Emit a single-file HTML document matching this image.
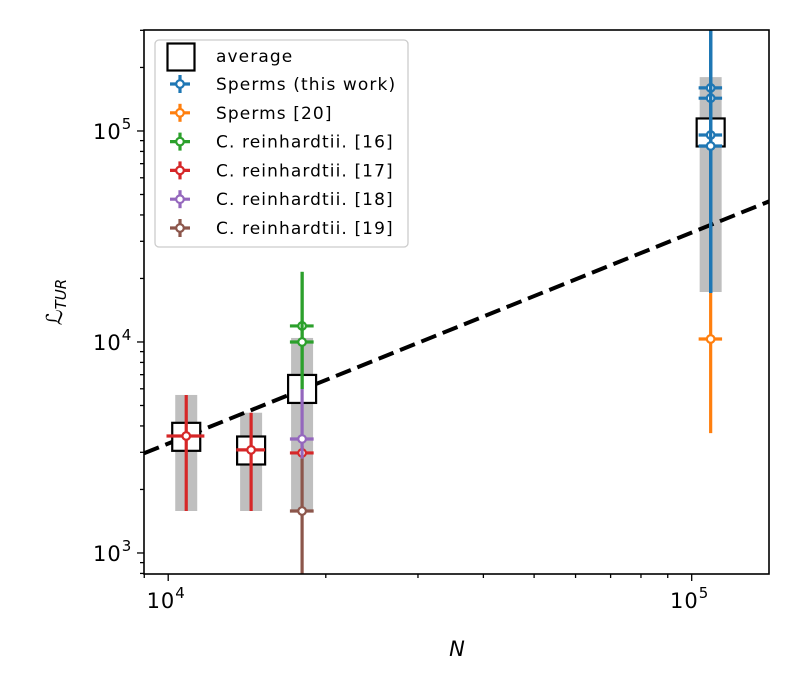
<!DOCTYPE html>
<html><head><meta charset="utf-8"><style>
body{margin:0;background:#fff;}
svg{display:block;font-family:"DejaVu Sans","Liberation Sans",sans-serif;}
</style></head><body>
<svg id="chart" width="800" height="700" xmlns="http://www.w3.org/2000/svg"></svg>
<script>
// ---- data ----
const seriesNames = ["Sperms (this work)","Sperms [20]","C. reinhardtii. [16]","C. reinhardtii. [17]","C. reinhardtii. [18]","C. reinhardtii. [19]"];
const seriesColors = ["#1f77b4","#ff7f0e","#2ca02c","#d62728","#9467bd","#8c564b"];
// points: series index, N, L, L lower, L upper, xerr
const ptSeries = [0,0,0,0,1,2,2,3,3,3,4,5];
const ptN     = [108700,108700,108700,108700,108700,18020,18020,10825,14400,18020,18020,18020];
const ptL     = [160000,143000,95700,84900,10330,11910,10000,3585,3080,2980,3470,1581];
const ptLlo   = [17060,17060,17060,17060,3700,5990,5990,1581,1581,2800,2800,600];
const ptLhi   = [300000,300000,300000,300000,17060,21500,21500,5610,4620,3200,5990,2800];
const ptXerr  = [5600,5600,5600,5600,5600,940,940,900,910,940,940,940];
// averages
const avgN  = [10825,14400,18020,108700];
const avgL  = [3552,3060,5990,98400];
const avgLo = [1581,1581,1581,17250];
const avgHi = [5610,4620,10450,180000];
// reference line L = slope * N
const lineSlope = 0.33;
const xTicks = [10000,100000];
const xTickLabels = ["4","5"];
const yTicks = [1000,10000,100000];
const yTickLabels = ["3","4","5"];

// ---- scales ----
const X0=144,X1=769,Y0=30,Y1=574;
const xMin=Math.log10(8990), xMax=Math.log10(140500);
const yMin=Math.log10(795), yMax=Math.log10(301000);
const xs=v=>X0+(Math.log10(v)-xMin)/(xMax-xMin)*(X1-X0);
const ys=v=>Y1-(Math.log10(v)-yMin)/(yMax-yMin)*(Y1-Y0);
const NS="http://www.w3.org/2000/svg";
const svg=document.getElementById('chart');
function mk(tag,attrs,parent){const e=document.createElementNS(NS,tag);for(const k in attrs)e.setAttribute(k,attrs[k]);(parent||svg).appendChild(e);return e;}

const defs=mk('defs',{});const cp=mk('clipPath',{id:'clip'},defs);mk('rect',{x:X0,y:Y0,width:X1-X0,height:Y1-Y0},cp);
const plot=mk('g',{'clip-path':'url(#clip)'});



avgN.forEach((n,i)=>{
  const r=mk('rect',{x:xs(n)-11,y:ys(avgHi[i]),width:22,height:ys(avgLo[i])-ys(avgHi[i]),fill:'#bfbfbf'},plot);
  
  
});
const dl=mk('line',{x1:X0,y1:ys(lineSlope*8990),x2:X1,y2:ys(lineSlope*140500),stroke:'#000','stroke-width':4,'stroke-dasharray':'16,7'},plot);


avgN.forEach((n,i)=>{
  const b=mk('rect',{x:xs(n)-14,y:ys(avgL[i])-14,width:28,height:28,fill:'#fff',stroke:'#000','stroke-width':2.2},plot);
  
  
});
for(let s=0;s<seriesNames.length;s++){
  ptSeries.forEach((si,i)=>{
    if(si!==s)return;
    const c=seriesColors[s],x=xs(ptN[i]),y=ys(ptL[i]);
    const g=mk('g',{},plot);
    
    
    mk('line',{x1:x,x2:x,y1:ys(ptLhi[i]),y2:ys(ptLlo[i]),stroke:c,'stroke-width':3.2},g);
    mk('line',{x1:xs(ptN[i]-ptXerr[i]),x2:xs(ptN[i]+ptXerr[i]),y1:y,y2:y,stroke:c,'stroke-width':3.2},g);
    mk('circle',{cx:x,cy:y,r:3.8,fill:'#fff',stroke:c,'stroke-width':2.2},g);
  });
}
const fr=mk('rect',{x:X0,y:Y0,width:X1-X0,height:Y1-Y0,fill:'none',stroke:'#000','stroke-width':1.6});


for(let d=3;d<=5;d++)for(let m=1;m<10;m++){const v=m*Math.pow(10,d);if(v<8990||v>140500)continue;const x=xs(v);mk('line',{x1:x,x2:x,y1:Y1,y2:Y1+(m===1?7:4),stroke:'#000','stroke-width':1.3});}
xTicks.forEach((v,i)=>{const t=mk('text',{x:xs(v)-2,y:Y1+34,'font-size':21,'text-anchor':'middle','letter-spacing':1});t.innerHTML='10<tspan dy="-10" font-size="15">'+xTickLabels[i]+'</tspan>';});
for(let d=2;d<=5;d++)for(let m=1;m<10;m++){const v=m*Math.pow(10,d);if(v<795||v>301000)continue;const y=ys(v);mk('line',{x1:X0,x2:X0-(m===1?7:4),y1:y,y2:y,stroke:'#000','stroke-width':1.3});}
yTicks.forEach((v,i)=>{const t=mk('text',{x:X0-51,y:ys(v)+8,'font-size':21,'letter-spacing':1});t.innerHTML='10<tspan dy="-10" font-size="15">'+yTickLabels[i]+'</tspan>';});
const xt=mk('text',{x:457,y:656,'font-size':21,'font-style':'italic','text-anchor':'middle'});xt.textContent='N';


const yt=mk('text',{x:0,y:0,'font-size':22,'font-style':'italic','text-anchor':'middle',transform:'translate(62,302) rotate(-90)'});yt.innerHTML='ℒ<tspan dy="4" font-size="15">TUR</tspan>';


const lg=mk('g',{});


mk('rect',{x:155,y:40,width:253,height:207,rx:4,fill:'#fff','fill-opacity':0.85,stroke:'#ccc','stroke-width':1.3},lg);
mk('rect',{x:167.5,y:43.5,width:27,height:27,fill:'#fff',stroke:'#000','stroke-width':2.2},lg);
const t0=mk('text',{x:216,y:62,'font-size':17,'letter-spacing':1.1},lg);t0.textContent='average';


seriesNames.forEach((n,i)=>{
  const y=84+i*28.8,c=seriesColors[i];
  mk('line',{x1:170,x2:190,y1:y,y2:y,stroke:c,'stroke-width':3.2},lg);
  mk('line',{x1:180,x2:180,y1:y-9,y2:y+9,stroke:c,'stroke-width':3.2},lg);
  mk('circle',{cx:180,cy:y,r:3.8,fill:'#fff',stroke:c,'stroke-width':2.2},lg);
  const t=mk('text',{x:216,y:y+6,'font-size':17,'letter-spacing':1.1},lg);t.textContent=n;
  
  
});
</script>
</body></html>
